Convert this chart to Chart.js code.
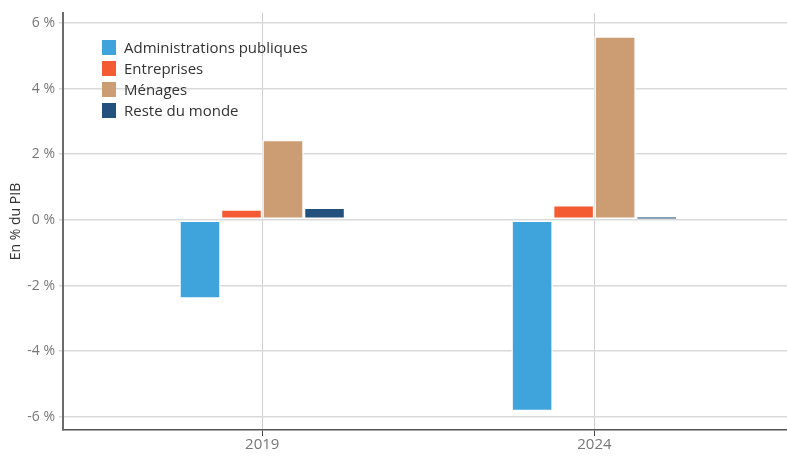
<!DOCTYPE html>
<html>
<head>
<meta charset="utf-8">
<script src="https://cdn.jsdelivr.net/npm/chart.js@4"></script>
<style>
  html, body { margin: 0; padding: 0; background: #fff; }
  #wrap { position: relative; width: 787px; height: 456px; }
  #legend {
    position: absolute; left: 102px; top: 37px;
    font-family: "Open Sans", sans-serif; font-size: 15px; color: #333;
  }
  #legend div { height: 21px; line-height: 21px; white-space: nowrap; }
  #legend span {
    display: inline-block; width: 14px; height: 15px;
    margin-right: 8px; vertical-align: -2px;
  }
</style>
</head>
<body>
<div id="wrap">
  <canvas id="c" width="787" height="456"></canvas>
  <div id="legend"></div>
</div>
<script>
// années et séries (en % du PIB)
const years = [2019, 2024];
const seriesNames = ['Administrations publiques', 'Entreprises', 'Ménages', 'Reste du monde'];
const adminPub = [-2.40, -5.83];
const entreprises = [0.32, 0.45];
const menages = [2.44, 5.59];
const resteMonde = [0.38, 0.08];
const yTicks = [-6, -4, -2, 0, 2, 4, 6];

const colors = ['#3fa4db', '#f45b32', '#cc9c72', '#22517d'];
const values = [adminPub, entreprises, menages, resteMonde];

// bordure blanche ; pour les barres très fines on garde au moins un filet de couleur
const barBorder = (ctx) =>
  Math.abs(ctx.raw.y) < 0.2 ? { left: 1.5, right: 1.5, top: 0, bottom: 0.6 } : 1.5;

const datasets = values.map((vals, i) => ({
  label: seriesNames[i],
  data: years.map((yr, j) => ({ x: yr, y: vals[j] })),
  backgroundColor: colors[i],
  borderColor: '#ffffff',
  borderWidth: barBorder,
  borderSkipped: false,
  categoryPercentage: 0.5,
  barPercentage: 1,
}));

// légende HTML dans la zone de tracé
document.getElementById('legend').innerHTML = seriesNames
  .map((n, i) => `<div><span style="background:${colors[i]}"></span>${n}</div>`)
  .join('');

new Chart(document.getElementById('c'), {
  type: 'bar',
  data: { datasets },
  options: {
    responsive: false,
    animation: false,
    layout: { padding: { top: 13, right: 0, left: 0, bottom: 0 } },
    plugins: { legend: { display: false }, tooltip: { enabled: false } },
    scales: {
      x: {
        type: 'linear',
        min: 2016,
        max: 2026.9,
        offset: false,
        afterBuildTicks: (s) => { s.ticks = years.map(v => ({ value: v })); },
        afterFit: (s) => { s.height = 26; },
        grid: { offset: false, color: '#cccccc', lineWidth: 1, tickLength: 6, tickColor: '#444' },
        border: { color: '#555', width: 1.5 },
        ticks: {
          color: '#777',
          font: { family: 'Open Sans', size: 15 },
          padding: 0,
          callback: (v) => String(v),
        },
      },
      y: {
        min: -6.4,
        max: 6.3,
        afterBuildTicks: (s) => { s.ticks = yTicks.map(v => ({ value: v })); },
        afterFit: (s) => { s.width = 63; },
        grid: { color: '#d9d9d9', lineWidth: 1.5, tickLength: 4 },
        border: { color: '#6b6b6b', width: 2 },
        ticks: {
          color: '#777',
          font: { family: 'Open Sans', size: 14 },
          padding: 4,
          callback: (v) => v + ' %',
        },
        title: {
          display: true,
          text: 'En % du PIB',
          color: '#333',
          font: { family: 'Open Sans', size: 14 },
          padding: { top: 8, bottom: 0 },
        },
      },
    },
  },
});
</script>
</body>
</html>
